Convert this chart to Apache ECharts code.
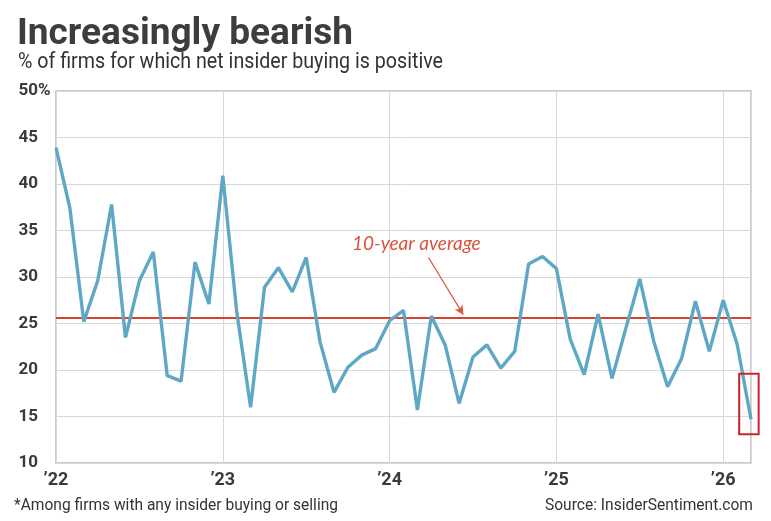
<!DOCTYPE html>
<html>
<head>
<meta charset="utf-8">
<script src="https://cdn.jsdelivr.net/npm/echarts@6/dist/echarts.min.js"></script>
<style>
  html, body { margin: 0; padding: 0; background: #fff; }
  #main { width: 771px; height: 521px; }
</style>
</head>
<body>
<div id="main"></div>
<script>
// 月份 (Jan 2022 - Mar 2026)
var months = [
  '2022-01','2022-02','2022-03','2022-04','2022-05','2022-06','2022-07','2022-08','2022-09','2022-10','2022-11','2022-12',
  '2023-01','2023-02','2023-03','2023-04','2023-05','2023-06','2023-07','2023-08','2023-09','2023-10','2023-11','2023-12',
  '2024-01','2024-02','2024-03','2024-04','2024-05','2024-06','2024-07','2024-08','2024-09','2024-10','2024-11','2024-12',
  '2025-01','2025-02','2025-03','2025-04','2025-05','2025-06','2025-07','2025-08','2025-09','2025-10','2025-11','2025-12',
  '2026-01','2026-02','2026-03'
];
// % of firms with positive net insider buying
var buyingPct = [
  43.9, 37.4, 25.2, 29.6, 37.8, 23.5, 29.6, 32.7, 19.4, 18.8, 31.6, 27.1,
  40.9, 26.3, 16.0, 28.9, 31.0, 28.4, 32.1, 23.0, 17.6, 20.3, 21.6, 22.3,
  25.3, 26.4, 15.7, 25.8, 22.7, 16.4, 21.4, 22.7, 20.2, 22.0, 31.4, 32.2,
  30.9, 23.3, 19.5, 26.0, 19.1, 24.5, 29.8, 23.1, 18.2, 21.2, 27.4, 22.0,
  27.5, 22.8, 14.7
];
var yearLabels = ['’22', '’23', '’24', '’25', '’26'];
var tenYearAvg = 25.6;

var labelFont = "Roboto, sans-serif";

var seriesData = [];
for (var i = 0; i < buyingPct.length; i++) {
  seriesData.push([i, buyingPct[i], months[i]]);
}

//把文字横向压缩到指定宽度 (模拟窄体字)
var measureCtx = document.createElement('canvas').getContext('2d');
function squeeze(text, font, width) {
  measureCtx.font = font;
  return width / measureCtx.measureText(text).width;
}

var myChart = echarts.init(document.getElementById('main'));

var option = {
  backgroundColor: '#fff',
  animation: false,
  grid: {
    left: 56, right: 20, top: 91, bottom: 58,
    show: true, borderColor: '#bcbcbc', borderWidth: 1.5
  },
  xAxis: {
    type: 'value',
    min: 0,
    max: buyingPct.length - 1,
    interval: 12,
    axisLine: { show: false },
    axisTick: { show: false },
    splitLine: { show: true, lineStyle: { color: '#d8d8d8', width: 1 } },
    axisLabel: {
      showMaxLabel: false,
      margin: 8,
      fontFamily: labelFont, fontSize: 18, fontWeight: 'bold', color: '#3a3a3a',
      formatter: function (v) { return yearLabels[v / 12] || ''; }
    }
  },
  yAxis: {
    type: 'value',
    min: 10, max: 50, interval: 5,
    axisLine: { show: false },
    axisTick: { show: false },
    splitLine: { lineStyle: { color: '#d8d8d8', width: 1 } },
    axisLabel: {
      margin: 18,
      fontFamily: labelFont, fontSize: 17, fontWeight: 'bold', color: '#3a3a3a'
    }
  },
  series: [{
    type: 'line',
    data: seriesData,
    symbol: 'none',
    lineStyle: { color: '#5ea8c5', width: 3.4 },
    z: 3,
    markLine: {
      silent: true,
      symbol: 'none',
      label: { show: false },
      data: [
        { yAxis: tenYearAvg, lineStyle: { color: '#d8432e', width: 2, type: 'solid' } },
        [
          { coord: [26.8, 32.1], symbol: 'none', lineStyle: { color: '#d9533f', width: 1.2, type: 'solid' } },
          { coord: [29.3, 25.95], symbol: 'arrow', symbolSize: [7, 9] }
        ]
      ],
      z: 2
    }
  }]
};

myChart.setOption(option);

// 注释文字、红框和标题
var txtPos = myChart.convertToPixel({ gridIndex: 0 }, [21.3, 33.4]);
var boxTL = myChart.convertToPixel({ gridIndex: 0 }, [49.15, 19.6]);
var boxBR = myChart.convertToPixel({ gridIndex: 0 }, [50.55, 13.1]);
var topTick = myChart.convertToPixel({ gridIndex: 0 }, [0, 50]);

var titleText = 'Increasingly bearish';
var titleFont = 'bold 37px Roboto';
var subText = '% of firms for which net insider buying is positive';
var subFont = '22px Roboto';
var noteText = '*Among firms with any insider buying or selling';
var srcText = 'Source: InsiderSentiment.com';
var noteFont = '17px Roboto';

myChart.setOption({
  graphic: [
    {
      type: 'text', x: 17, y: 16, scaleX: squeeze(titleText, titleFont, 336),
      style: { text: titleText, font: titleFont, fill: '#3d3d3d' }
    },
    {
      type: 'text', x: 18, y: 51, scaleX: squeeze(subText, subFont, 425),
      style: { text: subText, font: subFont, fill: '#333' }
    },
    {
      type: 'text', x: topTick[0] - 18, y: topTick[1],
      style: { text: '%', font: 'bold 17px Roboto', fill: '#3a3a3a', verticalAlign: 'middle' }
    },
    {
      type: 'text', left: txtPos[0], top: txtPos[1] - 11,
      style: { text: '10-year average', font: 'italic 19px Lato, sans-serif', fill: '#d9533f' }
    },
    {
      type: 'rect', z: 10,
      shape: { x: boxTL[0], y: boxTL[1], width: boxBR[0] - boxTL[0], height: boxBR[1] - boxTL[1] },
      style: { fill: 'none', stroke: '#c9232c', lineWidth: 2 }
    },
    {
      type: 'text', x: 14, y: 497, scaleX: squeeze(noteText, noteFont, 324),
      style: { text: noteText, font: noteFont, fill: '#333' }
    },
    {
      type: 'text', x: 545, y: 497, scaleX: squeeze(srcText, noteFont, 208),
      style: { text: srcText, font: noteFont, fill: '#333' }
    }
  ]
});
</script>
</body>
</html>
